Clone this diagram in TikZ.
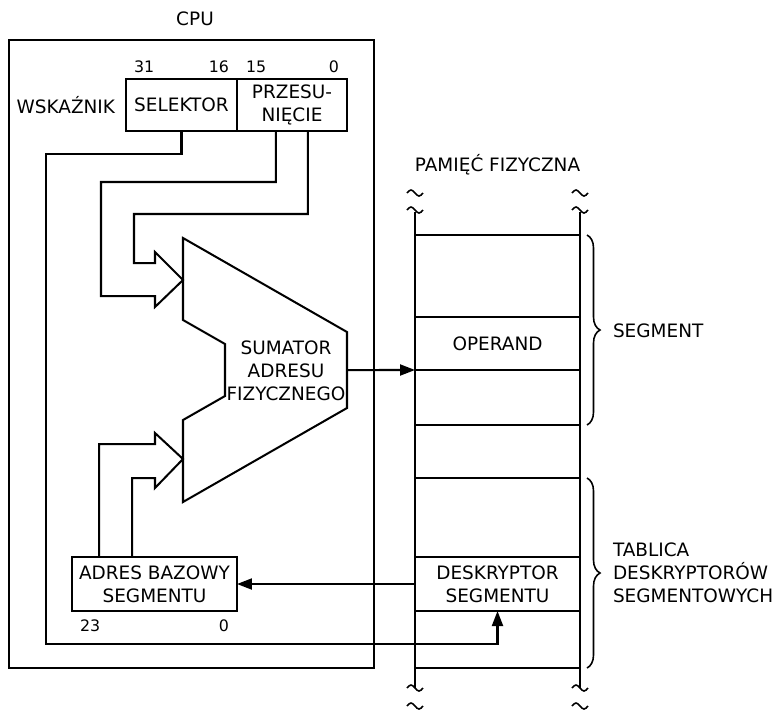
\documentclass[tikz,border=0pt]{standalone}
\usepackage{fontspec}
\setmainfont{DejaVu Sans}
\usetikzlibrary{arrows.meta,positioning,calc,decorations.pathreplacing}
\tikzset{
  regbox/.style={draw,minimum height=1.04cm,outer sep=0pt,inner sep=1pt,align=center},
  bitlbl/.style={font=\fontsize{9}{10}\selectfont,inner sep=0pt},
  memrow/.style={minimum width=3.3cm,outer sep=0pt,align=center},
  memtilde/.style={line width=0.9pt},
  segbrace/.style={decorate,decoration={brace,amplitude=0.26cm},line width=0.9pt}
}

\begin{document}
\begin{tikzpicture}[x=0.02cm,y=-0.02cm,line width=1.15pt,>={Triangle[length=0.3cm,width=0.22cm]},font=\fontsize{10.5}{13.1}\selectfont]
        \useasboundingbox (0,0) rectangle (773,711);
        \node[draw,minimum width=7.3cm,minimum height=12.56cm,outer sep=0pt] (cpu) at (191.5,354) {};
        \node (cpulbl) at (195,19) {CPU};
        \node[regbox,minimum width=2.22cm] (sel) at (181.5,105) {SELEKTOR};
        \node[regbox,minimum width=2.2cm,right=0pt of sel] (off) {PRZESU-\\NIĘCIE};
        \node[inner sep=0pt,left=0.2cm of sel] (ptr) {WSKAŹNIK};
        \node[bitlbl,above right=0.11cm and 0.14cm of sel.north west] (b31) {31};
        \node[bitlbl,above left=0.11cm and 0.14cm of sel.north east] (b16) {16};
        \node[bitlbl,above right=0.11cm and 0.16cm of off.north west] (b15) {15};
        \node[bitlbl,above left=0.11cm and 0.14cm of off.north east] (b0) {0};
        \draw (183,238) -- (347,332) -- (347,408) -- (183,502) -- (183,420) -- (225,396) -- (225,344) -- (183,320) -- cycle;
        \node[align=center] (sum) at (286,371) {SUMATOR\\ADRESU\\FIZYCZNEGO};
        \coordinate (sumout) at (347,370);
        \node[regbox,minimum width=3.3cm,minimum height=1.08cm] (base) at (154.5,584) {ADRES BAZOWY\\SEGMENTU};
        \node[bitlbl,below right=0.15cm and 0.14cm of base.south west] (b23) {23};
        \node[bitlbl,below left=0.15cm and 0.14cm of base.south east] (bb0) {0};
        \node (memlbl) at (497.5,165) {PAMIĘĆ FIZYCZNA};
        \foreach \x in {415,580} {
          \draw (\x,212) -- (\x,688);
          \foreach \y in {193,210,688,706}
            \draw[memtilde] (\x-8,\y) sin ++(4,-3) cos ++(4,3) sin ++(4,3) cos ++(4,-3);
        }
        \foreach \y in {235,317,370,425,478,557,611,668}
          \draw (415,\y) -- (580,\y);
        \node[memrow,minimum height=1.06cm] (operand) at (497.5,343.5) {OPERAND};
        \node[memrow,minimum height=1.08cm] (desc) at (497.5,584) {DESKRYPTOR\\SEGMENTU};
        \draw[segbrace] (587,235) -- (587,425);
        \node[anchor=west,inner sep=0pt] (seglbl) at (612,331) {SEGMENT};
        \draw[segbrace] (587,478) -- (587,668);
        \node[anchor=west,inner sep=0pt,align=left] (tablbl) at (612,573) {TABLICA\\DESKRYPTORÓW\\SEGMENTOWYCH};
        \draw ($(off.south)+(-16,0)$) |- (101,182) |- (155,296) -- (155,307) -- (183,280) -- (155,252) -- (155,263) -| (134,214) -| ($(off.south)+(16,0)$);
        \draw ($(base.north west)+(27,0)$) |- (155,444) -- (155,433) -- (183,459) -- (155,488) -- (155,478) -| ($(base.north west)+(60,0)$);
        \draw[->] (sel.south) |- (46,154) |- ($(desc.south)+(0,33)$) -- (desc.south);
        \draw[->] (sumout) -- (operand.south west);
        \draw[->] (desc.west) -- (base.east);
      \end{tikzpicture}
\end{document}
